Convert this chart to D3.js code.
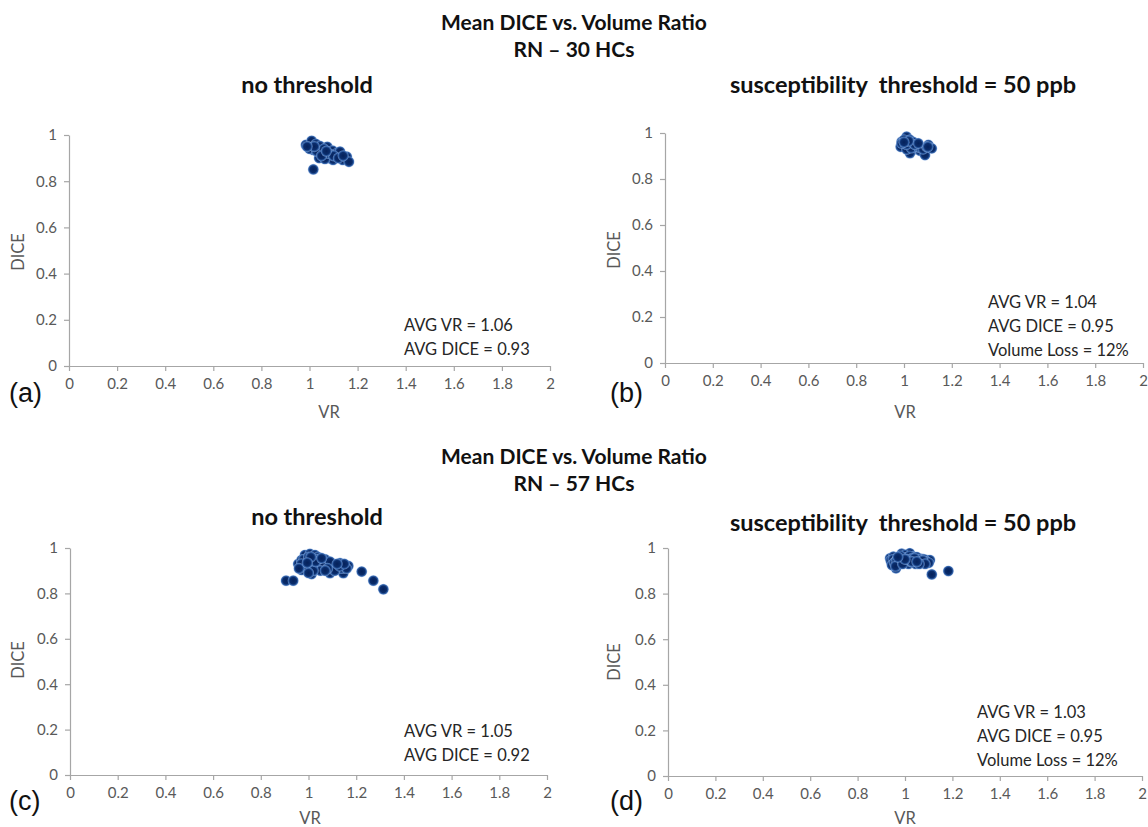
<!DOCTYPE html>
<html><head><meta charset="utf-8">
<script src="https://cdn.jsdelivr.net/npm/d3@7"></script>
<style>
html,body{margin:0;padding:0;background:#fff;}
svg{display:block;}
</style></head>
<body>
<svg id="chart" width="1148" height="827"></svg>
<script>
// ---------- data ----------
const xTicks = [0, 0.2, 0.4, 0.6, 0.8, 1, 1.2, 1.4, 1.6, 1.8, 2];
const yTicks = [0, 0.2, 0.4, 0.6, 0.8, 1];

const figTitle = "Mean DICE vs. Volume Ratio";
const groupTitles = ["RN \u2013 30 HCs", "RN \u2013 57 HCs"];
const panelTitles = ["no threshold", "susceptibility  threshold = 50 ppb", "no threshold", "susceptibility  threshold = 50 ppb"];
const panelLetters = ["(a)", "(b)", "(c)", "(d)"];

const aVR   = [0.985,1.009,1.027,1.016,1.044,1.055,1.074,1.096,1.085,1.113,1.127,1.098,1.138,1.155,1.164,1.040,1.016,1.064,0.998,1.000,1.030,1.060,1.080,1.100,1.120,1.050,1.020,1.140,1.070,0.990];
const aDICE = [0.957,0.975,0.961,0.935,0.952,0.921,0.949,0.932,0.899,0.921,0.928,0.892,0.892,0.906,0.884,0.900,0.851,0.896,0.948,0.940,0.930,0.940,0.920,0.910,0.900,0.910,0.950,0.910,0.930,0.950];

const bVR   = [0.990,1.011,1.025,1.004,1.032,1.056,1.036,1.067,1.025,1.088,1.102,1.116,0.986,1.011,1.000,1.020,1.040,1.050,1.030,1.060,1.070,1.080,1.010,0.990,1.045,1.095,1.020,1.060,1.100,1.000];
const bDICE = [0.962,0.984,0.970,0.948,0.948,0.952,0.926,0.923,0.912,0.904,0.948,0.933,0.940,0.929,0.970,0.960,0.960,0.940,0.935,0.940,0.935,0.930,0.950,0.955,0.950,0.940,0.965,0.955,0.940,0.960];

const cVR   = [0.906,0.936,0.957,0.971,0.985,0.999,1.006,1.013,1.027,1.034,1.048,1.060,1.069,1.090,1.097,1.111,1.132,1.146,1.153,1.167,1.223,1.272,1.314,0.971,0.992,
               0.980,1.000,1.020,1.040,1.050,1.070,1.080,1.100,1.120,1.140,1.160,1.030,1.010,0.990,0.970,1.060,1.090,1.110,1.130,1.050,1.020,1.000,1.040,1.080,0.960,1.150,1.030,1.070,1.010,1.120,0.995,1.055];
const cDICE = [0.856,0.856,0.930,0.903,0.969,0.947,0.974,0.885,0.969,0.933,0.911,0.940,0.918,0.889,0.933,0.918,0.933,0.889,0.925,0.921,0.896,0.856,0.818,0.947,0.918,
               0.950,0.960,0.950,0.960,0.940,0.950,0.930,0.920,0.920,0.910,0.910,0.920,0.930,0.920,0.930,0.920,0.940,0.900,0.920,0.900,0.900,0.890,0.950,0.910,0.910,0.930,0.940,0.900,0.960,0.930,0.935,0.955];

const dVR   = [0.937,0.951,0.962,0.986,1.000,1.020,1.035,1.046,1.070,1.092,1.105,1.113,1.183,0.944,1.014,
               0.940,0.950,0.960,0.970,0.980,0.990,1.000,1.010,1.020,1.030,1.040,1.050,1.060,1.070,1.080,1.090,1.100,0.945,0.955,0.965,0.975,0.985,0.995,1.005,1.015,1.025,1.035,1.045,1.055,1.065,1.075,1.085,0.960,0.990,1.010,1.040,1.060,0.980,1.030,1.050,1.000,0.970];
const dDICE = [0.955,0.962,0.911,0.975,0.957,0.977,0.962,0.940,0.952,0.947,0.947,0.884,0.899,0.933,0.940,
               0.945,0.950,0.940,0.955,0.960,0.965,0.970,0.960,0.965,0.955,0.950,0.960,0.945,0.940,0.950,0.940,0.935,0.925,0.935,0.945,0.930,0.950,0.940,0.945,0.930,0.940,0.945,0.930,0.950,0.935,0.945,0.930,0.920,0.930,0.950,0.955,0.930,0.965,0.940,0.940,0.950,0.960];

const notes = [
  ["AVG VR = 1.06", "AVG DICE = 0.93"],
  ["AVG VR = 1.04", "AVG DICE = 0.95", "Volume Loss = 12%"],
  ["AVG VR = 1.05", "AVG DICE = 0.92"],
  ["AVG VR = 1.03", "AVG DICE = 0.95", "Volume Loss = 12%"]
];
const xLabel = "VR";
const yLabel = "DICE";

// ---------- layout ----------
const layout = [
  {x0:69,  x1:550,  y0:366, y1:135, title:[307,84], letter:[9,402],  vr:[329,412], dice:[18,252], note:[404,325]},
  {x0:665, x1:1143, y0:363, y1:133, title:[903,84], letter:[610,402], vr:[905,412], dice:[614,250], note:[988,302]},
  {x0:70,  x1:547,  y0:775, y1:548, title:[317,516], letter:[9,810], vr:[310,818], dice:[18,660], note:[404,731]},
  {x0:668, x1:1142, y0:776, y1:548, title:[903,522], letter:[610,810], vr:[905,818], dice:[614,662], note:[977,712]}
];
const seriesVR = [aVR, bVR, cVR, dVR];
const seriesDICE = [aDICE, bDICE, cDICE, dDICE];

const svg = d3.select("#chart");
const defs = svg.append("defs");
const grad = defs.append("radialGradient").attr("id","dot").attr("cx","50%").attr("cy","50%").attr("r","50%");
grad.append("stop").attr("offset","0%").attr("stop-color","#05215a");
grad.append("stop").attr("offset","60%").attr("stop-color","#0a2d6c");
grad.append("stop").attr("offset","84%").attr("stop-color","#3767ae");
grad.append("stop").attr("offset","100%").attr("stop-color","#8fb0e0").attr("stop-opacity",0.6);

const FONT = "Lato, 'Open Sans', sans-serif";

// figure titles
[[21,48,0],[455,482,1]].forEach(([y1,y2,g])=>{
  svg.append("text").attr("x",574).attr("y",y1).attr("text-anchor","middle").attr("dominant-baseline","central")
    .attr("font-family",FONT).attr("font-weight","bold").attr("font-size",21).attr("fill","#111").text(figTitle);
  svg.append("text").attr("x",574).attr("y",y2).attr("text-anchor","middle").attr("dominant-baseline","central")
    .attr("font-family",FONT).attr("font-weight","bold").attr("font-size",21).attr("fill","#111").text(groupTitles[g]);
});

layout.forEach((L,i)=>{
  const x = d3.scaleLinear().domain([0,2]).range([L.x0,L.x1]);
  const y = d3.scaleLinear().domain([0,1]).range([L.y0,L.y1]);
  const g = svg.append("g");

  // panel title
  g.append("text").attr("x",L.title[0]).attr("y",L.title[1]).attr("text-anchor","middle").attr("dominant-baseline","central")
    .attr("font-family",FONT).attr("font-weight","bold").attr("font-size",23.5).attr("fill","#111")
    .attr("xml:space","preserve").style("white-space","pre").text(panelTitles[i]);

  // axes
  const xa = g.append("g").attr("transform",`translate(0,${L.y0})`)
    .call(d3.axisBottom(x).tickValues(xTicks).tickFormat(d3.format("~g")).tickSizeInner(5).tickSizeOuter(0).tickPadding(7));
  const ya = g.append("g").attr("transform",`translate(${L.x0},0)`)
    .call(d3.axisLeft(y).tickValues(yTicks).tickFormat(d3.format("~g")).tickSizeInner(5).tickSizeOuter(0).tickPadding(7));
  [xa,ya].forEach(a=>{
    a.select(".domain").attr("stroke","#a6a6a6").attr("stroke-width",1.2);
    a.selectAll(".tick line").attr("stroke","#a6a6a6").attr("stroke-width",1.2);
    a.selectAll(".tick text").attr("fill","#595959").attr("font-family",FONT).attr("font-size",15);
  });

  // axis labels
  g.append("text").attr("x",L.vr[0]).attr("y",L.vr[1]).attr("text-anchor","middle").attr("dominant-baseline","central")
    .attr("font-family",FONT).attr("font-size",16.5).attr("fill","#595959").text(xLabel);
  g.append("text").attr("transform",`translate(${L.dice[0]},${L.dice[1]}) rotate(-90)`).attr("text-anchor","middle").attr("dominant-baseline","central")
    .attr("font-family",FONT).attr("font-size",16.5).attr("fill","#595959").text(yLabel);

  // panel letter
  g.append("text").attr("x",L.letter[0]).attr("y",L.letter[1]).attr("font-family","'Liberation Sans', Arial, sans-serif")
    .attr("font-size",27).attr("fill","#111").text(panelLetters[i]);

  // annotation
  notes[i].forEach((t,k)=>{
    g.append("text").attr("x",L.note[0]).attr("y",L.note[1]+k*24).attr("dominant-baseline","central")
      .attr("font-family",FONT).attr("font-size",16.5).attr("fill","#262626").text(t);
  });

  // points
  const pts = seriesVR[i].map((v,k)=>({vr:v, dice:seriesDICE[i][k]}));
  g.append("g").selectAll("circle").data(pts).join("circle")
    .attr("cx",d=>x(d.vr)).attr("cy",d=>y(d.dice)).attr("r",5.6)
    .attr("fill","url(#dot)");
});
</script>
</body></html>
